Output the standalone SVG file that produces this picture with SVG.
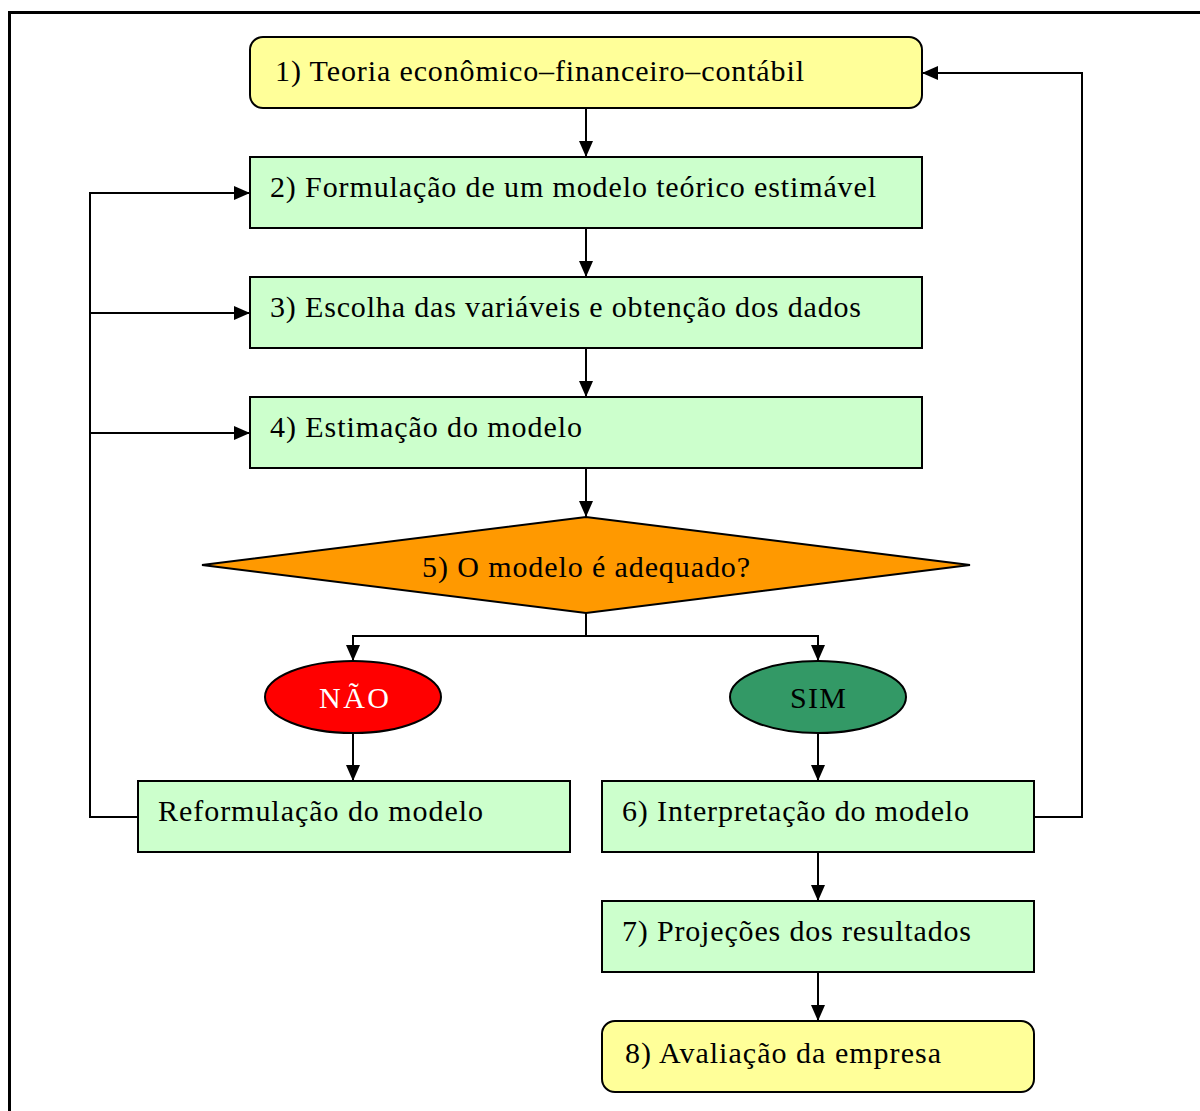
<svg xmlns="http://www.w3.org/2000/svg" width="1200" height="1111" viewBox="0 0 1200 1111">
<defs>
<marker id="ah" markerWidth="16" markerHeight="14" viewBox="0 0 16 14" refX="16" refY="7" orient="auto" markerUnits="userSpaceOnUse">
<path d="M0,0 L16,7 L0,14 Z" fill="#000"/>
</marker>
<style>
.box{stroke:#000;stroke-width:2}
.g{fill:#CCFFCC}
.y{fill:#FFFF99}
.c{fill:none;stroke:#000;stroke-width:2}
</style>
</defs>
<rect x="0" y="0" width="1200" height="1111" fill="#fff"/>
<rect x="9.5" y="12.5" width="1200" height="1110" fill="none" stroke="#000" stroke-width="3"/>
<g id="connectors">
<path class="c" d="M586,108 V157" marker-end="url(#ah)"/>
<path class="c" d="M586,228 V277" marker-end="url(#ah)"/>
<path class="c" d="M586,348 V397" marker-end="url(#ah)"/>
<path class="c" d="M586,468 V517" marker-end="url(#ah)"/>
<path class="c" d="M586,613 V636 H353 V661" marker-end="url(#ah)"/>
<path class="c" d="M586,636 H818 V661" marker-end="url(#ah)"/>
<path class="c" d="M353,733 V781" marker-end="url(#ah)"/>
<path class="c" d="M818,733 V781" marker-end="url(#ah)"/>
<path class="c" d="M818,852 V901" marker-end="url(#ah)"/>
<path class="c" d="M818,972 V1021" marker-end="url(#ah)"/>
<path class="c" d="M138,817 H90 V193 H250" marker-end="url(#ah)"/>
<path class="c" d="M90,313 H250" marker-end="url(#ah)"/>
<path class="c" d="M90,433 H250" marker-end="url(#ah)"/>
<path class="c" d="M1034,817 H1082 V73 H922" marker-end="url(#ah)"/>
</g>
<g font-family="Liberation Serif, Times New Roman, Tinos, DejaVu Serif, serif" font-size="30" fill="#000">
<g id="n1"><rect class="box y" x="250" y="37" width="672" height="71" rx="13"/><text x="275" y="81" textLength="529" lengthAdjust="spacing">1) Teoria econômico–financeiro–contábil</text></g>
<g id="n2"><rect class="box g" x="250" y="157" width="672" height="71"/><text x="270" y="197" textLength="606" lengthAdjust="spacing">2) Formulação de um modelo teórico estimável</text></g>
<g id="n3"><rect class="box g" x="250" y="277" width="672" height="71"/><text x="270" y="317" textLength="591" lengthAdjust="spacing">3) Escolha das variáveis e obtenção dos dados</text></g>
<g id="n4"><rect class="box g" x="250" y="397" width="672" height="71"/><text x="270" y="437" textLength="312" lengthAdjust="spacing">4) Estimação do modelo</text></g>
<g id="n5"><polygon class="box" fill="#FF9900" points="202,565 586,517 970,565 586,613"/><text x="422" y="577" textLength="328" lengthAdjust="spacing">5) O modelo é adequado?</text></g>
<g id="nao"><ellipse class="box" fill="#FF0000" cx="353" cy="697" rx="88" ry="36"/><text x="319" y="708" fill="#fff" textLength="70" lengthAdjust="spacing">NÃO</text></g>
<g id="sim"><ellipse class="box" fill="#339966" cx="818" cy="697" rx="88" ry="36"/><text x="790" y="708" textLength="56" lengthAdjust="spacing">SIM</text></g>
<g id="reform"><rect class="box g" x="138" y="781" width="432" height="71"/><text x="158" y="821" textLength="325" lengthAdjust="spacing">Reformulação do modelo</text></g>
<g id="n6"><rect class="box g" x="602" y="781" width="432" height="71"/><text x="622" y="821" textLength="347" lengthAdjust="spacing">6) Interpretação do modelo</text></g>
<g id="n7"><rect class="box g" x="602" y="901" width="432" height="71"/><text x="622" y="941" textLength="349" lengthAdjust="spacing">7) Projeções dos resultados</text></g>
<g id="n8"><rect class="box y" x="602" y="1021" width="432" height="71" rx="13"/><text x="625" y="1063" textLength="316" lengthAdjust="spacing">8) Avaliação da empresa</text></g>
</g>
</svg>
